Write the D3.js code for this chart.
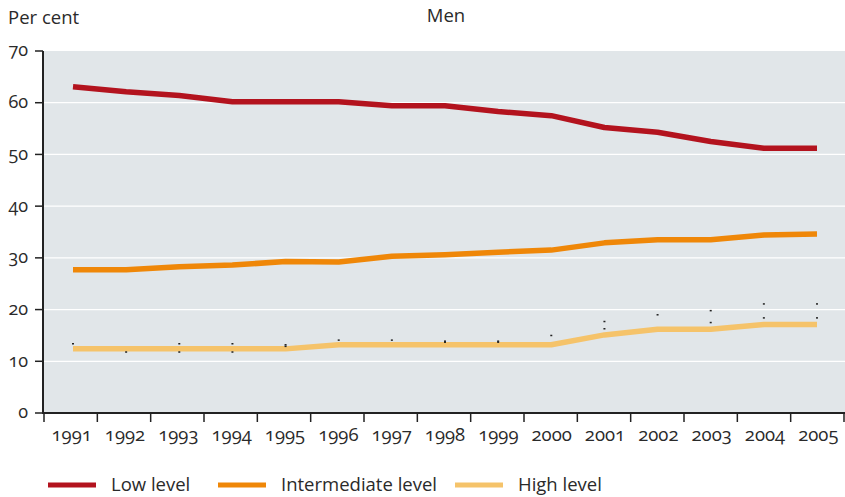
<!DOCTYPE html>
<html><head><meta charset="utf-8">
<script src="https://cdn.jsdelivr.net/npm/d3@7"></script>
<style>
body{margin:0;background:#fff;}
svg text{font-family:"Open Sans",Lato,sans-serif;fill:#2a2a2a;font-feature-settings:"onum";}
</style></head>
<body><svg id="c" width="845" height="497"></svg>
<script>
const years = [1991,1992,1993,1994,1995,1996,1997,1998,1999,2000,2001,2002,2003,2004,2005];
const lowLevel = [63.1,62.1,61.4,60.2,60.2,60.2,59.4,59.4,58.3,57.5,55.2,54.3,52.5,51.2,51.2];
const intermediateLevel = [27.7,27.7,28.3,28.6,29.3,29.2,30.3,30.6,31.1,31.5,32.9,33.5,33.5,34.4,34.6];
const highLevel = [12.4,12.4,12.4,12.4,12.4,13.2,13.2,13.2,13.2,13.2,15.1,16.2,16.2,17.1,17.1];
const markerUpper = [13.4,null,13.4,13.4,13.2,14.1,14.1,13.9,13.9,15.0,17.7,19.0,19.8,21.1,21.1];
const markerLower = [null,11.8,11.8,11.8,12.9,null,null,13.7,13.7,null,16.3,null,17.5,18.4,18.4];
const yTicks = [0,10,20,30,40,50,60,70];
const seriesNames = ["Low level","Intermediate level","High level"];
const seriesColors = ["#b3131e","#ef8708","#f5c36a"];
const seriesValues = [lowLevel, intermediateLevel, highLevel];

const svg = d3.select("#c");
const L=44, R=845, T=51, B=413;
const y = d3.scaleLinear().domain([0,70]).range([B,T]);
const xb = d3.scaleBand().domain(years).range([44,844]);
const x = d3.scalePoint().domain(years).range([73,817]);

svg.append("rect").attr("x",L).attr("y",T).attr("width",R-L).attr("height",B-T).attr("fill","#e1e6e9");
svg.append("g").selectAll("line").data(yTicks.filter(d=>d>0&&d<70)).join("line")
  .attr("x1",L).attr("x2",R).attr("y1",d=>y(d)).attr("y2",d=>y(d))
  .attr("stroke","#fff").attr("stroke-width",1.3);

const line = d3.line().x((d,i)=>x(years[i])).y(d=>y(d));
seriesValues.slice().reverse().forEach((vals,k)=>{
  const i = 2-k;
  svg.append("path").attr("d",line(vals)).attr("fill","none")
    .attr("stroke",seriesColors[i]).attr("stroke-width",5.5).attr("stroke-linejoin","round");
});

[markerUpper, markerLower].forEach(arr=>{
  svg.append("g").selectAll("rect").data(arr.map((v,i)=>({v,yr:years[i]})).filter(d=>d.v!=null)).join("rect")
    .attr("x",d=>x(d.yr)-1).attr("y",d=>y(d.v)-0.7).attr("width",2).attr("height",1.5).attr("fill","#222");
});

// y axis
svg.append("line").attr("x1",43).attr("x2",43).attr("y1",T).attr("y2",B+1).attr("stroke","#222").attr("stroke-width",2);
const yg = svg.append("g");
yg.selectAll("line").data(yTicks).join("line").attr("x1",35).attr("x2",43).attr("y1",d=>y(d)).attr("y2",d=>y(d)).attr("stroke","#222").attr("stroke-width",1.5);
yg.selectAll("text").data(yTicks).join("text").attr("x",28).attr("y",d=>y(d)).attr("dy","0.3em")
  .attr("text-anchor","end").attr("font-size",18).text(d=>d);

// x axis
svg.append("line").attr("x1",42).attr("x2",845).attr("y1",B).attr("y2",B).attr("stroke","#222").attr("stroke-width",2);
const xt = years.map(d=>xb(d)).concat([xb(years[years.length-1])+xb.bandwidth()]);
svg.append("g").selectAll("line").data(xt).join("line").attr("x1",d=>d).attr("x2",d=>d).attr("y1",B).attr("y2",B+9).attr("stroke","#222").attr("stroke-width",1.5);
svg.append("g").selectAll("text").data(years).join("text")
  .attr("x",d=>xb(d)+xb.bandwidth()/2+1).attr("y",441).attr("text-anchor","middle").attr("font-size",18.5).text(d=>d);

svg.append("text").attr("x",8).attr("y",24).attr("font-size",18.5).text("Per cent");
svg.append("text").attr("x",446).attr("y",22).attr("text-anchor","middle").attr("font-size",18.5).text("Men");

// legend
const legX = [48,218,455];
seriesNames.forEach((n,i)=>{
  svg.append("line").attr("x1",legX[i]).attr("x2",legX[i]+48).attr("y1",485).attr("y2",485).attr("stroke",seriesColors[i]).attr("stroke-width",5);
  svg.append("text").attr("x",legX[i]+63).attr("y",485).attr("dy","0.35em").attr("font-size",18.5).text(n);
});
</script></body></html>
